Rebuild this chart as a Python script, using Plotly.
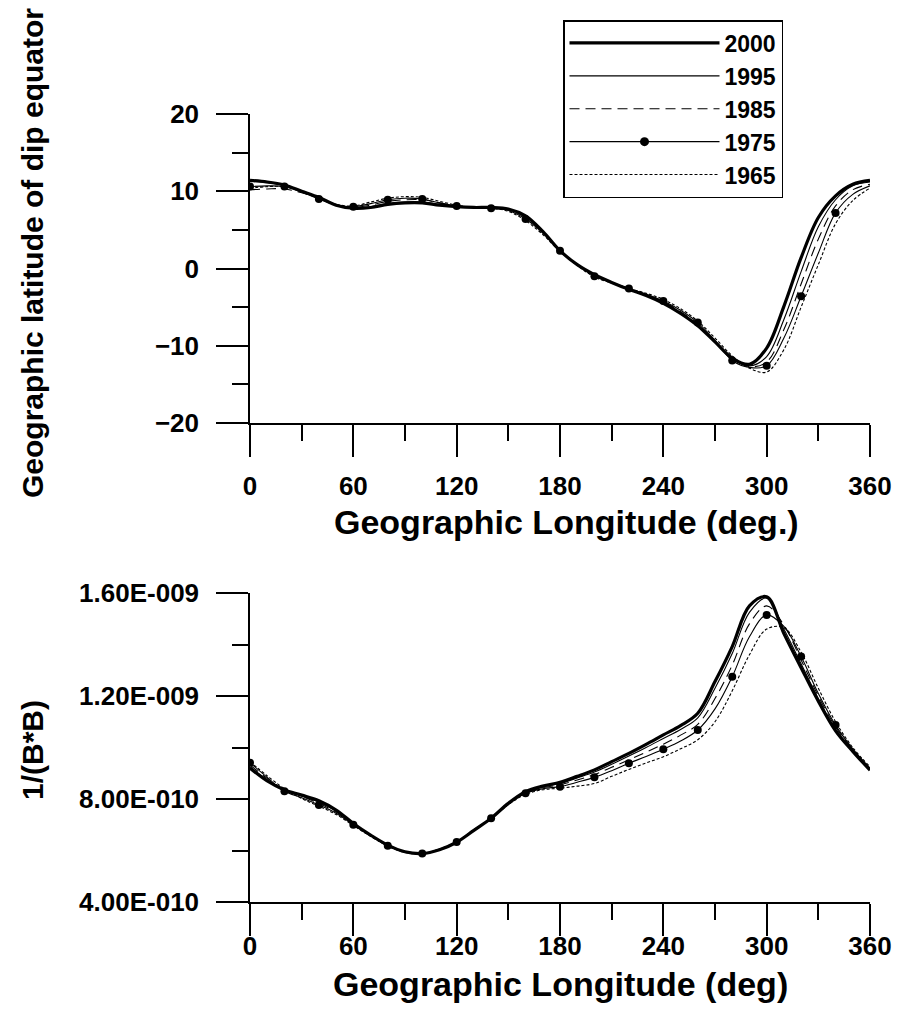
import plotly.graph_objects as go

lon = list(range(0, 361, 10))
years = ["2000", "1995", "1985", "1975", "1965"]

# Geographic latitude of dip equator (deg)
lat_2000 = [11.4, 11.2, 10.8, 10.0, 9.2, 8.2, 7.8, 7.9, 8.3, 8.5, 8.5, 8.2, 8.0, 7.9, 7.9, 7.7, 6.8, 4.8, 2.3,
            0.5, -0.8, -1.8, -2.7, -3.5, -4.5, -5.8, -7.4, -9.5, -11.6, -12.4, -10.3, -4.9, 1.4, 6.6, 9.4, 10.9, 11.4]
lat_1995 = [11.3, 11.1, 10.8, 10.0, 9.2, 8.2, 7.8, 8.0, 8.4, 8.6, 8.6, 8.3, 8.0, 7.9, 7.9, 7.7, 6.8, 4.8, 2.3,
            0.5, -0.8, -1.8, -2.7, -3.5, -4.5, -5.8, -7.4, -9.5, -11.7, -12.6, -11.4, -6.6, -0.4, 5.4, 8.9, 10.7, 11.2]
lat_1985 = [10.2, 10.3, 10.3, 9.8, 9.1, 8.3, 7.9, 8.2, 8.7, 8.9, 8.9, 8.5, 8.1, 7.9, 7.8, 7.6, 6.6, 4.7, 2.3,
            0.5, -0.9, -1.8, -2.6, -3.4, -4.3, -5.6, -7.2, -9.4, -11.6, -12.7, -12.1, -7.9, -2.0, 3.8, 8.1, 10.2, 10.9]
lat_1975 = [10.6, 10.7, 10.6, 9.9, 9.0, 8.2, 8.0, 8.4, 8.9, 9.1, 9.0, 8.5, 8.1, 7.9, 7.8, 7.5, 6.4, 4.6, 2.3,
            0.5, -1.0, -1.8, -2.6, -3.3, -4.2, -5.4, -7.0, -9.3, -11.9, -12.8, -12.6, -9.0, -3.6, 2.0, 7.2, 9.6, 10.7]
lat_1965 = [10.4, 10.6, 10.6, 10.0, 9.1, 8.3, 8.1, 8.6, 9.1, 9.3, 9.2, 8.7, 8.2, 7.9, 7.8, 7.4, 6.2, 4.4, 2.2,
            0.4, -1.1, -1.9, -2.6, -3.2, -4.0, -5.2, -6.8, -9.0, -11.3, -12.9, -13.4, -10.5, -5.0, 0.5, 5.8, 8.8, 10.4]

# 1/(B*B), in units of 1e-10
inv_2000 = [9.20, 8.70, 8.35, 8.15, 7.93, 7.57, 7.05, 6.60, 6.21, 5.95, 5.88, 6.03, 6.32, 6.78, 7.25, 7.83, 8.28, 8.50, 8.65,
            8.88, 9.13, 9.45, 9.77, 10.12, 10.49, 10.85, 11.33, 12.56, 13.92, 15.50, 15.85, 14.43, 13.10, 11.80, 10.65, 9.85, 9.12]
inv_1995 = [9.25, 8.75, 8.36, 8.12, 7.88, 7.53, 7.04, 6.59, 6.20, 5.94, 5.88, 6.04, 6.33, 6.79, 7.25, 7.82, 8.26, 8.47, 8.60,
            8.82, 9.05, 9.35, 9.67, 10.00, 10.35, 10.70, 11.15, 12.30, 13.65, 15.25, 15.80, 14.60, 13.25, 11.90, 10.70, 9.88, 9.14]
inv_1985 = [9.32, 8.80, 8.38, 8.10, 7.83, 7.49, 7.02, 6.58, 6.19, 5.93, 5.88, 6.04, 6.33, 6.80, 7.25, 7.81, 8.24, 8.44, 8.55,
            8.74, 8.95, 9.23, 9.52, 9.82, 10.13, 10.48, 10.90, 11.90, 13.20, 14.80, 15.50, 14.75, 13.40, 12.00, 10.80, 9.92, 9.17]
inv_1975 = [9.41, 8.84, 8.30, 8.05, 7.77, 7.45, 7.00, 6.57, 6.18, 5.93, 5.88, 6.05, 6.33, 6.80, 7.25, 7.80, 8.22, 8.40, 8.48,
            8.65, 8.84, 9.10, 9.39, 9.65, 9.93, 10.25, 10.68, 11.50, 12.75, 14.30, 15.15, 14.70, 13.53, 12.10, 10.87, 9.95, 9.20]
inv_1965 = [9.45, 8.90, 8.40, 8.02, 7.72, 7.40, 6.97, 6.55, 6.17, 5.92, 5.88, 6.06, 6.34, 6.81, 7.24, 7.78, 8.18, 8.36, 8.42,
            8.50, 8.60, 8.88, 9.15, 9.40, 9.64, 9.95, 10.30, 11.00, 12.20, 13.60, 14.60, 14.65, 13.70, 12.30, 11.00, 10.00, 9.25]

lat_series = [lat_2000, lat_1995, lat_1985, lat_1975, lat_1965]
inv_series = [inv_2000, inv_1995, inv_1985, inv_1975, inv_1965]

styles = {
    "2000": dict(width=3.2, dash="solid"),
    "1995": dict(width=1.1, dash="solid"),
    "1985": dict(width=1.1, dash="10px,6px"),
    "1975": dict(width=1.1, dash="solid"),
    "1965": dict(width=1.1, dash="3px,2px"),
}

FONT = "Liberation Sans, Arial, sans-serif"
fig = go.Figure()

marker_sizes = [8 if (v % 20 == 0 and v < 360) else 0 for v in lon]

# legend-only entries (so the 1975 sample shows one full-size dot)
for yr in years:
    st = styles[yr]
    fig.add_trace(go.Scatter(
        x=[None], y=[None], mode="lines+markers" if yr == "1975" else "lines", name=yr,
        line=dict(color="black", width=st["width"], dash=st["dash"]),
        marker=dict(size=9, color="black", opacity=1, line=dict(width=0)),
        xaxis="x", yaxis="y", showlegend=True))

for axes, series, scale in (("x", lat_series, 1.0), ("x2", inv_series, 1e-10)):
    ya = "y" if axes == "x" else "y2"
    for yr, ys in zip(years, series):
        st = styles[yr]
        fig.add_trace(go.Scatter(
            x=lon, y=[v * scale for v in ys],
            mode="lines+markers" if yr == "1975" else "lines",
            name=yr, line_shape="spline", showlegend=False,
            line=dict(color="black", width=st["width"], dash=st["dash"]),
            marker=dict(size=marker_sizes, color="black", opacity=1, line=dict(width=0)),
            xaxis=axes, yaxis=ya))

W, H = 897, 1019
xd = [250 / W, 870 / W]


def axis_common(standoff):
    return dict(
        showline=True, linecolor="black", linewidth=1.5,
        ticks="outside", ticklen=32, tickwidth=1.5, tickcolor="black",
        showgrid=False, zeroline=False, automargin=False,
        ticklabelstandoff=standoff,
        tickfont=dict(family=FONT, size=26, color="black", weight="bold"),
    )


def minor(dt):
    return dict(dtick=dt, tick0=0, ticklen=16, tickwidth=1.5, tickcolor="black", ticks="outside")


fig.update_layout(
    width=W, height=H,
    margin=dict(l=0, r=0, t=0, b=0, autoexpand=False),
    paper_bgcolor="white", plot_bgcolor="white",
    showlegend=True,
    xaxis=dict(domain=xd, range=[0, 360], tickvals=[0, 60, 120, 180, 240, 300, 360],
               minor=minor(30), anchor="y", **axis_common(7)),
    yaxis=dict(domain=[1 - 423 / H, 1 - 114 / H], range=[-20, 20], tickvals=[-20, -10, 0, 10, 20],
               minor=minor(5), anchor="x", **axis_common(12)),
    xaxis2=dict(domain=xd, range=[0, 360], tickvals=[0, 60, 120, 180, 240, 300, 360],
                minor=minor(30), anchor="y2", **axis_common(-12)),
    yaxis2=dict(domain=[1 - 902 / H, 1 - 593 / H], range=[4e-10, 1.6e-9],
                tickvals=[4e-10, 8e-10, 1.2e-9, 1.6e-9],
                ticktext=["4.00E-010", "8.00E-010", "1.20E-009", "1.60E-009"],
                minor=minor(2e-10), anchor="x2", **axis_common(12)),
    legend=dict(x=563 / W, y=1 - 20 / H, xanchor="left", yanchor="top",
                bordercolor="black", borderwidth=1.5, bgcolor="white",
                font=dict(family=FONT, size=23, color="black", weight="bold"),
                itemwidth=150, tracegroupgap=0),
)

hfont = dict(family=FONT, size=34, color="black", weight="bold")
vfont = dict(family=FONT, size=30, color="black", weight="bold")
ann = [
    dict(text="Geographic Longitude (deg.)", x=566 / W, y=1 - 522 / H, font=hfont),
    dict(text="Geographic Longitude (deg)", x=560 / W, y=1 - 984 / H, font=hfont),
    dict(text="Geographic latitude of dip equator", x=32 / W, y=1 - 253 / H, textangle=-90, font=vfont),
    dict(text="1/(B*B)", x=32 / W, y=1 - 750 / H, textangle=-90, font=vfont),
]
for a in ann:
    fig.add_annotation(xref="paper", yref="paper", xanchor="center", yanchor="middle",
                       showarrow=False, **a)

fig.write_html("out.html")
